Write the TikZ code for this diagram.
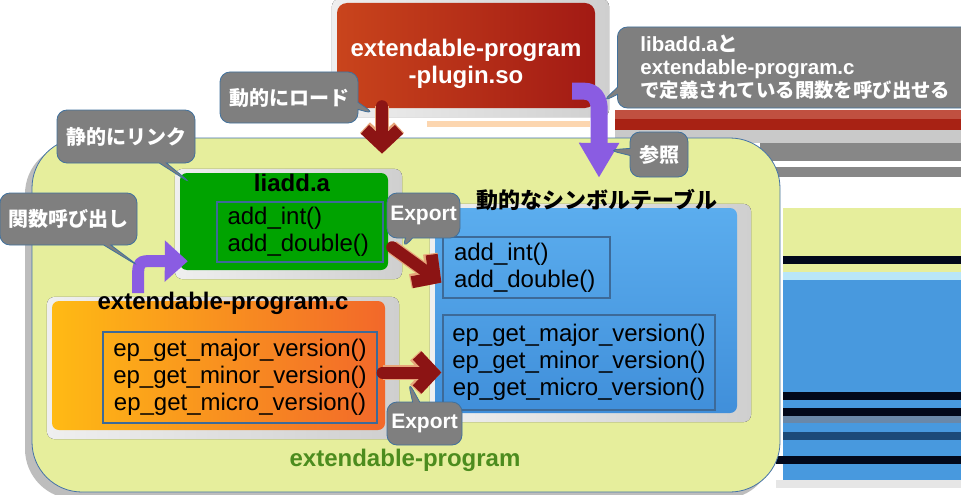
\documentclass[tikz,border=0pt]{standalone}
\usepackage{fontspec}
\setmainfont{Liberation Sans}
\newfontfamily\jp{Noto Sans CJK JP}
\usetikzlibrary{arrows.meta,positioning,calc,shapes.callouts}
\definecolor{plugA}{HTML}{C9441C}
\definecolor{plugB}{HTML}{A21A14}
\definecolor{framegray}{HTML}{CFCFCF}
\definecolor{framelight}{HTML}{EFEFEF}
\definecolor{progfill}{HTML}{E6EE9C}
\definecolor{progedge}{HTML}{4472A8}
\definecolor{progshadow}{HTML}{BDBDBD}
\definecolor{progtext}{HTML}{4C8C1E}
\definecolor{libgreen}{HTML}{00A300}
\definecolor{epcA}{HTML}{FFBA14}
\definecolor{epcB}{HTML}{F2682A}
\definecolor{symA}{HTML}{5BADEE}
\definecolor{symB}{HTML}{408FDA}
\definecolor{fnedge}{HTML}{3D6A98}
\definecolor{bubblegray}{HTML}{7F7F7F}
\definecolor{bubbleedge}{HTML}{41719C}
\definecolor{arrowred}{HTML}{8C1414}
\definecolor{arrowedge}{HTML}{E7A57A}
\definecolor{refpurple}{HTML}{8A5CE2}
\definecolor{stripeA}{HTML}{C05040}
\definecolor{stripeB}{HTML}{A82214}
\definecolor{stripeC}{HTML}{C9C9C9}
\definecolor{stripeD}{HTML}{878787}
\definecolor{stripeE}{HTML}{B9E6F8}
\definecolor{stripeF}{HTML}{02081A}
\definecolor{stripeG}{HTML}{6A88A8}
\definecolor{stripeH}{HTML}{1C4A78}
\definecolor{stripeI}{HTML}{E6E6E6}
\definecolor{stripeblue}{HTML}{4899DE}
\definecolor{peach}{HTML}{FCD6B0}
\newcommand{\px}[2]{\fontsize{#1}{#2}\selectfont}
\pgfdeclarelayer{back}
\pgfdeclarelayer{frames}
\pgfsetlayers{back,frames,main}

\begin{document}
\begin{tikzpicture}[x=1pt, y=-1pt,
    box/.style={rounded corners=7pt, inner sep=0pt},
    title/.style={font=\bfseries\px{24}{26}},
    fnbox/.style={draw=fnedge, line width=1.2pt, inner sep=0pt, font=\px{24}{27}},
    progbox/.style={draw=progedge, fill=progfill, line width=0.8pt, rounded corners=50pt,
        minimum width=748pt, minimum height=354pt},
    bubble/.style={rectangle callout, fill=bubblegray, draw=bubbleedge, line width=0.8pt,
        rounded corners=10pt, text=white, font=\bfseries\px{20}{23}, inner sep=0pt},
    redarrow/.style={draw=arrowred, line width=12pt, line cap=round,
        -{Straight Barb[length=16pt,width=34pt,sharp]},
        preaction={draw=arrowedge, line width=14.5pt, -{Straight Barb[length=16pt,width=34pt,sharp]}}},
    purplearrow/.style={draw=refpurple, line width=17pt, -{Triangle[length=35pt,width=38pt]}}
]
\useasboundingbox (0,0) rectangle (961,495);

\begin{pgfonlayer}{back}
% leftover bands at the right edge
\fill[stripeA] (615,110) rectangle (961,119);
\fill[stripeB] (615,119) rectangle (961,130);
\fill[stripeC] (615,130) rectangle (961,143);
\fill[stripeD] (760,143) rectangle (961,161);
\fill[stripeD] (776,167) rectangle (961,177);
\fill[progfill] (783,208) rectangle (961,272);
\fill[stripeF] (783,256) rectangle (961,264);
\fill[stripeE] (783,272) rectangle (961,280);
\fill[stripeblue] (783,280) rectangle (961,480);
\fill[stripeF] (783,392) rectangle (961,400);
\fill[stripeF] (783,408) rectangle (961,416);
\fill[stripeG] (783,416) rectangle (961,423);
\fill[stripeH] (783,432) rectangle (961,440);
\fill[stripeF] (776,456) rectangle (961,464);
\fill[stripeI] (776,480) rectangle (961,488);
\fill[peach] (427,121) rectangle (590,127);

\fill[progshadow, rounded corners=50pt] (25,144) rectangle (773,499);
\node[progbox] (prog) at (406,315) {};
\end{pgfonlayer}
\node[font=\bfseries\px{24}{26}, text=progtext] (progname) at (405,460) {extendable-program};

\node[box, rounded corners=10pt, text=white, font=\bfseries\px{24}{27}, align=center,
    left color=plugA, right color=plugB, minimum width=258pt, minimum height=105pt]
    (plugin) at (466,55.5) {\rule{0pt}{34pt}extendable-program\\-plugin.so};

\node[box, fill=libgreen, minimum width=208pt, minimum height=97pt] (lib) at (284,221.5) {};
\node[title] (libtitle) at (292,183) {liadd.a};
\node[fnbox, minimum width=166pt, minimum height=60pt, align=left, text width=145pt]
    (libfn) at (300,232) {add\_int()\\add\_double()};

\node[box, left color=epcA, right color=epcB, minimum width=333pt, minimum height=129pt]
    (epc) at (218.5,365.5) {};
\node[title] (epctitle) at (223,303) {extendable-program.c};
\node[fnbox, minimum width=274pt, minimum height=91pt, align=center] (epfn) at (240,377.5)
    {ep\_get\_major\_version()\\ep\_get\_minor\_version()\\ep\_get\_micro\_version()};

\node[box, top color=symA, bottom color=symB, minimum width=302pt, minimum height=205pt]
    (symtab) at (586,310.5) {};
\node[font=\jp\bfseries\px{22}{24}] (symtitle) at (597,200) {動的なシンボルテーブル};
\node[fnbox, minimum width=167pt, minimum height=61pt, align=left, text width=145pt]
    (symlib) at (526.5,267.5) {add\_int()\\add\_double()};
\node[fnbox, minimum width=272pt, minimum height=95pt, align=center] (symep) at (579,362.5)
    {ep\_get\_major\_version()\\ep\_get\_minor\_version()\\ep\_get\_micro\_version()};

\begin{pgfonlayer}{frames}
\foreach \b in {plugin,lib,epc,symtab}
    \fill[left color=framelight, right color=framegray, rounded corners=8pt]
        ($(\b.north west)+(-5,-4)$) rectangle ($(\b.south east)+(14,9)$);
\end{pgfonlayer}

% arrows
\coordinate (loadstart) at ($(plugin.south)+(-84,-2)$);
\coordinate (loadend) at ($(prog.north)+(-24,16)$);
\draw[redarrow] (loadstart) -- (loadend);

\coordinate (libout) at ($(lib.south east)+(4,-23)$);
\coordinate (symlibin) at ($(symlib.south west)+(-1,-16)$);
\draw[redarrow] (libout) -- (symlibin);

\coordinate (epout) at ($(epfn.east)+(5,-5)$);
\coordinate (symepin) at ($(symep.west)+(-1,10)$);
\draw[redarrow] (epout) -- (symepin);

\coordinate (refstart) at ($(plugin.south east)+(-23,-17)$);
\coordinate (refend) at ($(symtab.north)+(13,-30)$);
\draw[purplearrow] (refstart) -- ++(12,0) .. controls +(10,0) and +(0,-10) .. ++(15,18) -- (refend);

\coordinate (callstart) at (138,293);
\coordinate (callend) at ($(lib.south west)+(8,-9)$);
\draw[purplearrow, line width=12pt, -{Triangle[length=23pt,width=40pt]}]
    (callstart) -- (138,277) .. controls (138,262) and (140,261) .. (152,261) -- (callend);

% callouts
\coordinate (loadtip) at (375,114);
\coordinate (linktip) at (192,184);
\coordinate (calltip) at (140,267);
\coordinate (exptipA) at (402,249);
\coordinate (exptipB) at (408,381);
\coordinate (reftip) at (608,150);
\coordinate (notetip) at (602,102);

\node[bubble, minimum width=138pt, minimum height=51pt, callout absolute pointer={(loadtip)}]
    (loadnote) at (289,97.5) {\jp 動的にロード};
\node[bubble, minimum width=138pt, minimum height=53pt, callout absolute pointer={(linktip)}]
    (linknote) at (126,136.5) {\jp 静的にリンク};
\node[bubble, minimum width=137pt, minimum height=52pt, callout absolute pointer={(calltip)}]
    (callnote) at (68.5,219) {\jp 関数呼び出し};
\node[bubble, font=\bfseries\px{21}{23}, minimum width=73pt, minimum height=45pt,
    callout absolute pointer={(exptipA)}] (expnoteA) at (423.5,215.5) {Export};
\node[bubble, font=\bfseries\px{21}{23}, minimum width=75pt, minimum height=43pt,
    callout absolute pointer={(exptipB)}] (expnoteB) at (424.5,423.5) {Export};
\node[bubble, minimum width=58pt, minimum height=45pt, callout absolute pointer={(reftip)}]
    (refnote) at (659,154.5) {\jp 参照};
\node[bubble, font=\bfseries\px{20.5}{23}, anchor=west, minimum height=81pt, inner xsep=23pt,
    align=left, callout absolute pointer={(notetip)}] (bignote) at (617,67.5)
    {libadd.a{\jp と}\\extendable-program.c\\{\jp\px{19.4}{23}で定義されている関数を呼び出せる}};
\end{tikzpicture}
\end{document}
